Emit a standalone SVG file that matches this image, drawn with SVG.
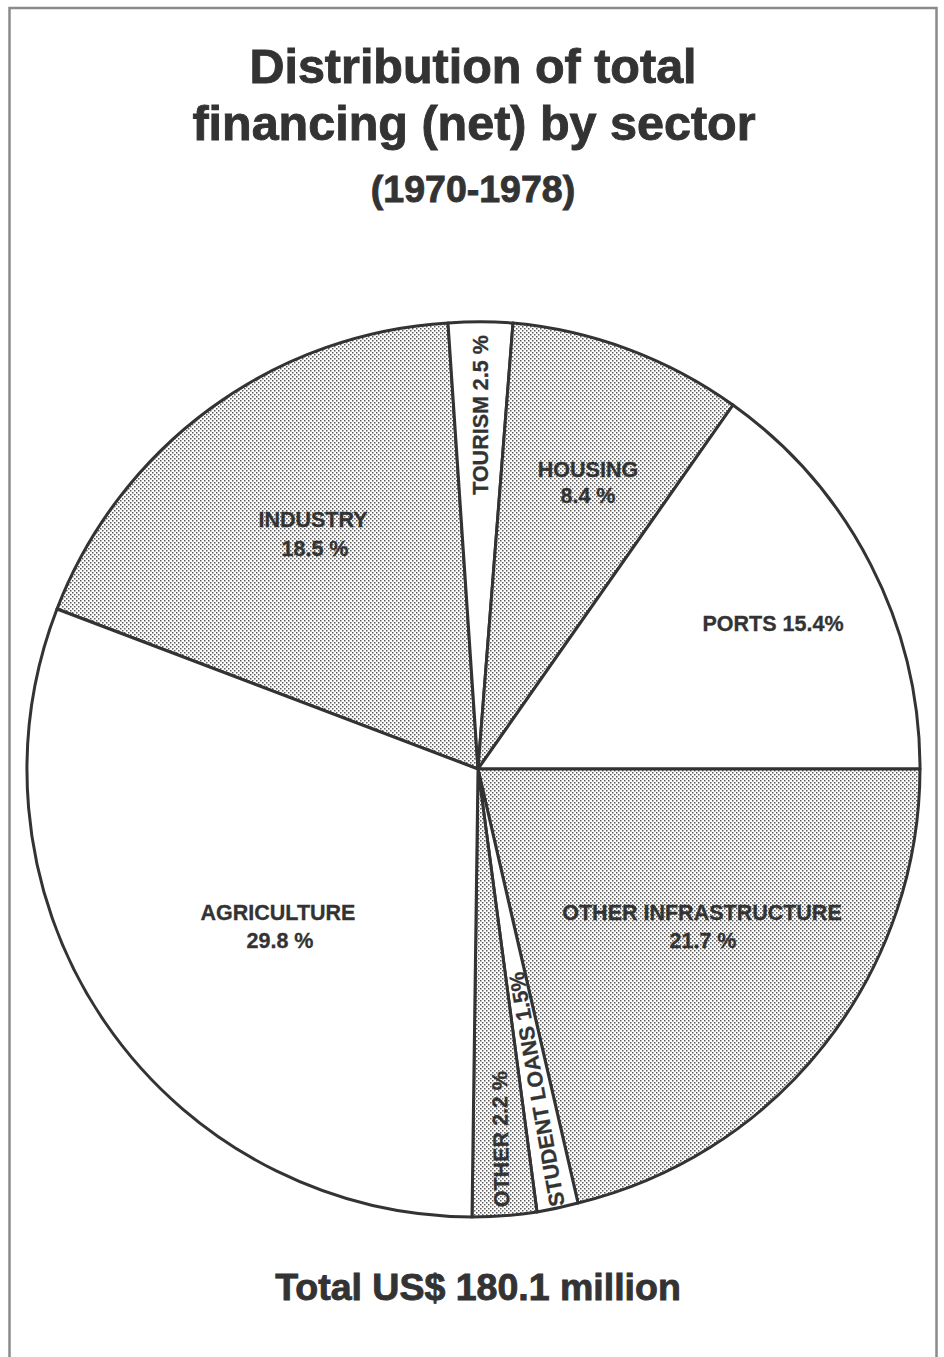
<svg xmlns="http://www.w3.org/2000/svg" width="944" height="1357" viewBox="0 0 944 1357">
  <defs>
    <!-- fine halftone screen used for the shaded sectors -->
    <pattern id="dots" width="4" height="4" patternUnits="userSpaceOnUse">
      <rect width="4" height="4" fill="#ffffff"/>
      <rect x="0" y="0" width="1.5" height="1.5" fill="#5a5a5a"/>
      <rect x="2" y="2" width="1.5" height="1.5" fill="#5a5a5a"/>
    </pattern>
    <style>
      .slice { stroke: #333; stroke-width: 3; stroke-linejoin: round; }
      .shaded { fill: url(#dots); }
      .plain { fill: #ffffff; }
      .lbl { font-family: "Liberation Sans", Arial, sans-serif; font-weight: bold; font-size: 21.5px; fill: #333; stroke: #333; stroke-width: 0.3; text-anchor: middle; }
      .title { font-family: "Liberation Sans", Arial, sans-serif; font-weight: bold; fill: #333; stroke: #333; stroke-width: 0.9; text-anchor: middle; }
      .frame { fill: none; stroke: #8a8a8a; stroke-width: 2.5; }
    </style>
  </defs>

  <rect width="944" height="1357" fill="#ffffff"/>

  <!-- page frame (open at the bottom) -->
  <path class="frame" d="M 9.5 1360 L 9.5 8 L 936.5 8 L 936.5 1360"/>

  <!-- headings -->
  <g id="title">
    <text class="title" x="473" y="83" font-size="48.5">Distribution of total</text>
    <text class="title" x="474" y="140" font-size="48.5">financing (net) by sector</text>
    <text class="title" x="473" y="202" font-size="37.5">(1970-1978)</text>
  </g>

  <!-- pie sectors, clockwise from the left -->
  <g id="industry">
    <path class="slice shaded" d="M 478 769 L 57 609 A 447 447 0 0 1 448 323 Z"/>
    <text class="lbl" x="313" y="527">INDUSTRY</text>
    <text class="lbl" x="315" y="556">18.5 %</text>
  </g>
  <g id="tourism">
    <path class="slice plain" d="M 478 769 L 448 323 A 447 447 0 0 1 513 323 Z"/>
    <text class="lbl" transform="translate(488 415) rotate(-90)">TOURISM 2.5 %</text>
  </g>
  <g id="housing">
    <path class="slice shaded" d="M 478 769 L 513 323 A 447 447 0 0 1 733 405 Z"/>
    <text class="lbl" x="588" y="477">HOUSING</text>
    <text class="lbl" x="588" y="503">8.4 %</text>
  </g>
  <g id="ports">
    <path class="slice plain" d="M 478 769 L 733 405 A 447 447 0 0 1 920 769 Z"/>
    <text class="lbl" x="773" y="631">PORTS 15.4%</text>
  </g>
  <g id="other-infrastructure">
    <path class="slice shaded" d="M 478 769 L 920 769 A 447 447 0 0 1 578 1203 Z"/>
    <text class="lbl" x="702" y="920">OTHER INFRASTRUCTURE</text>
    <text class="lbl" x="703" y="948">21.7 %</text>
  </g>
  <g id="student-loans">
    <path class="slice plain" d="M 478 769 L 578 1203 A 447 447 0 0 1 537 1212 Z"/>
    <text class="lbl" transform="translate(544 1088) rotate(-100)">STUDENT LOANS 1.5%</text>
  </g>
  <g id="other">
    <path class="slice shaded" d="M 478 769 L 537 1212 A 447 447 0 0 1 472 1217 Z"/>
    <text class="lbl" transform="translate(508 1139) rotate(-91)">OTHER 2.2 %</text>
  </g>
  <g id="agriculture">
    <path class="slice plain" d="M 478 769 L 472 1217 A 447 447 0 0 1 57 609 Z"/>
    <text class="lbl" x="278" y="920">AGRICULTURE</text>
    <text class="lbl" x="280" y="948">29.8 %</text>
  </g>

  <!-- total -->
  <g id="total">
    <text class="title" x="478" y="1300" font-size="37.5">Total US$ 180.1 million</text>
  </g>
</svg>
